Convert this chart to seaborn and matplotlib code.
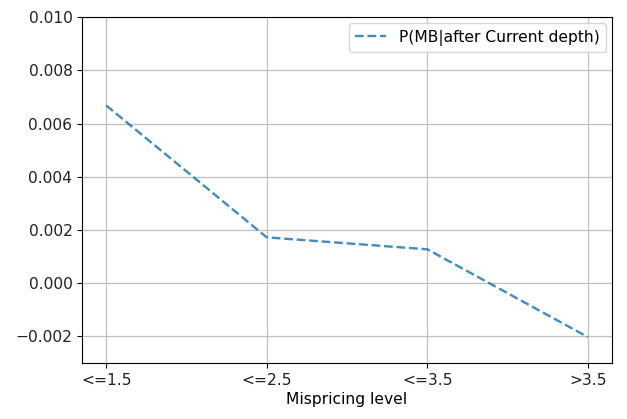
import matplotlib
matplotlib.use("Agg")
import matplotlib.pyplot as plt
import seaborn as sns
import pandas as pd

levels = ["<=1.5", "<=2.5", "<=3.5", ">3.5"]
prob_after_depth = [0.00668, 0.00172, 0.00127, -0.00203]
series_name = "P(MB|after Current depth)"

df = pd.DataFrame({"level": levels, "value": prob_after_depth})

plt.rcParams["font.size"] = 11.2

fig = plt.figure(figsize=(6.27, 4.19), dpi=100)
ax = fig.add_axes([0.131, 0.134, 0.845, 0.825])

sns.lineplot(data=df, x="level", y="value", ax=ax, color="#1f77b4",
             linestyle="--", linewidth=1.7, alpha=0.85, label=series_name, sort=False)

ax.set_ylim(-0.003, 0.010)
ax.set_xlim(-0.15, 3.15)
ax.set_xlabel("Mispricing level", labelpad=3)
ax.set_ylabel("")
ax.tick_params(labelcolor="#222222")
ax.grid(True, color="#c0c0c0", linewidth=0.9)
ax.legend(loc="upper right", borderaxespad=0.4)

fig.savefig("out.png", dpi=100)
